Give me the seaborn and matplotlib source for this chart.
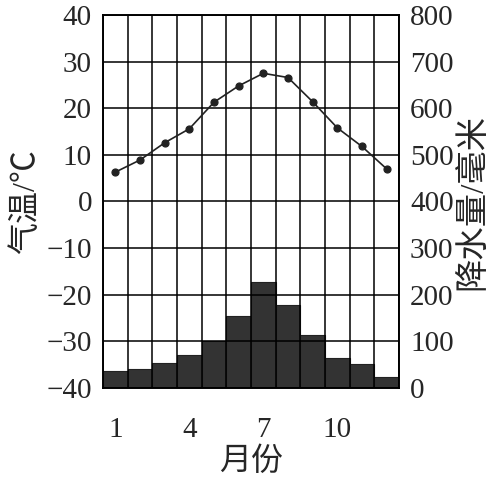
import pandas as pd
import seaborn as sns
import matplotlib.pyplot as plt

# Monthly climate data
months = list(range(1, 13))
temperature = [6.3, 8.9, 12.6, 15.6, 21.3, 24.8, 27.5, 26.6, 21.4, 15.8, 11.8, 7.0]
precipitation = [36, 41, 54, 71, 101, 155, 228, 177, 114, 63, 52, 23]
month_ticks = ["1", "4", "7", "10"]
temp_ticks = list(range(-40, 41, 10))
precip_ticks = list(range(0, 801, 100))

df = pd.DataFrame({"month": months, "temp": temperature, "precip": precipitation})

sns.set_style("white")
plt.rcParams["font.family"] = ["Liberation Serif", "Noto Sans CJK SC"]

fig = plt.figure(figsize=(4.98, 4.86), dpi=100)
ax = fig.add_axes([0.207, 0.202, 0.594, 0.767])
ax2 = ax.twinx()

# Precipitation bars on the right axis
sns.barplot(data=df, x="month", y="precip", ax=ax2, width=1, color="#333333",
            saturation=1, edgecolor="#222222", linewidth=0.8, errorbar=None)
ax2.set_ylim(0, 800)
ax2.set_yticks(precip_ticks)
ax2.set_ylabel("降水量/毫米", fontsize=24, labelpad=3)

# Temperature line on the left axis, drawn above the bars
ax.set_zorder(ax2.get_zorder() + 1)
ax.patch.set_visible(False)
sns.pointplot(data=df, x="month", y="temp", ax=ax, color="#222222",
              markersize=5, linewidth=1.2, errorbar=None)
ax.set_ylim(-40, 40)
ax.set_xlim(-0.5, len(months) - 0.5)
ax.set_yticks(temp_ticks)
ax.set_ylabel("气温/℃", fontsize=23, labelpad=4)

# Month ticks and grid
ax.set_xticks([months.index(int(t)) for t in month_ticks])
ax.set_xticklabels(month_ticks)
ax.set_xticks([i - 0.5 for i in range(len(months) + 1)], minor=True)
ax.set_xlabel("月份", fontsize=23, labelpad=3)
ax.xaxis.grid(True, which="minor", color="black", linewidth=1.1)
ax.yaxis.grid(True, color="black", linewidth=1.1)

ax.tick_params(axis="y", length=0, pad=8, labelsize=21)
ax.tick_params(axis="x", which="both", length=0, pad=21, labelsize=21)
ax2.tick_params(axis="y", length=0, pad=8, labelsize=21)

for a in (ax, ax2):
    for s in a.spines.values():
        s.set_color("black")
        s.set_linewidth(1.2)

fig.savefig("out.png", dpi=100)
